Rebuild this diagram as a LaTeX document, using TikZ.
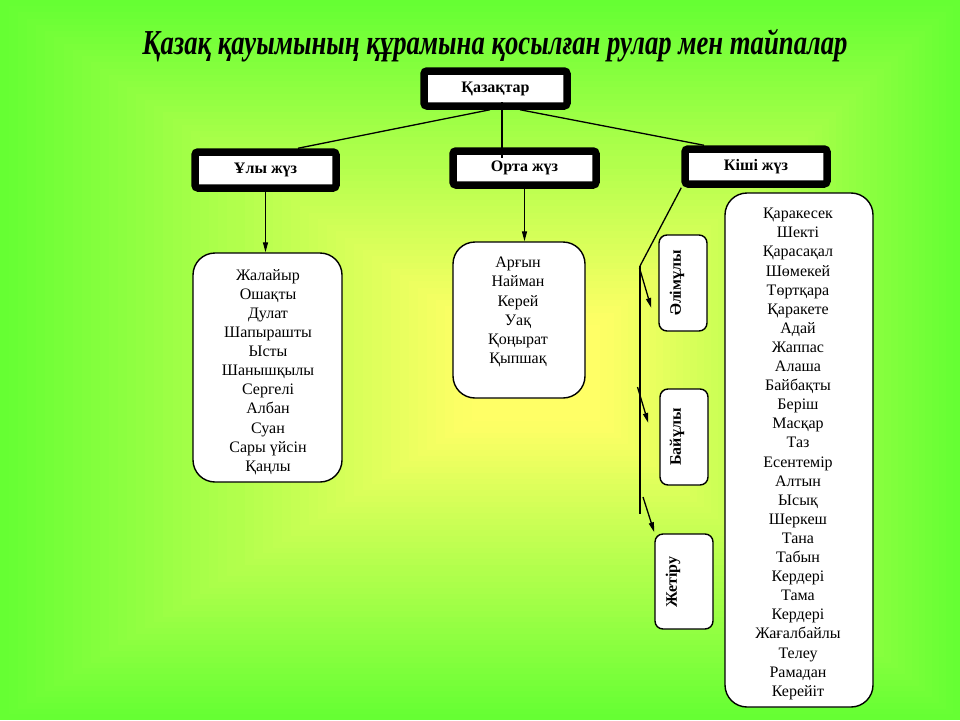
\documentclass[tikz,border=0pt]{standalone}
\usepackage{graphicx}
\usepackage{fontspec}
\setmainfont{Liberation Serif}
\usetikzlibrary{arrows.meta,calc}
\definecolor{bgyel}{RGB}{255,255,102}
\definecolor{bggrn}{RGB}{102,255,51}
\begin{document}
\begin{tikzpicture}[x=1pt,y=-1pt,
  zhbox/.style={draw=black, fill=white, line width=7.5pt, rounded corners=3pt,
    font=\fontsize{16}{19}\selectfont\bfseries, inner sep=0pt},
  listbox/.style={draw=black, fill=white, line width=1.4pt, rounded corners=22pt, inner sep=0pt},
  vbox/.style={draw=black, fill=white, line width=1.4pt, rounded corners=8pt, inner sep=0pt},
  listtext/.style={align=center, font=\fontsize{16}{19.1}\selectfont, inner sep=0pt},
  vlabel/.style={rotate=90, font=\fontsize{16}{19}\selectfont\bfseries, inner sep=0pt},
  conn/.style={draw=black, line width=1.3pt},
  arr/.style={draw=black, line width=1.3pt, -{Triangle[length=10pt,width=5pt]}}]

\useasboundingbox (0,0) rectangle (960,720);
% background: rectangular gradient
\fill[bggrn] (0,0) rectangle (960,720);
\foreach \i in {1,...,60}{
  \pgfmathsetmacro{\t}{1-\i/60}
  \pgfmathtruncatemacro{\p}{min(100,100*(1-\t)/0.85)}
  \fill[bgyel!\p!bggrn] ({545-\t*545},{375-\t*375}) rectangle ({545+\t*415},{375+\t*345});
}

% title
\node[font=\fontsize{35}{38}\selectfont\bfseries\itshape, inner sep=0pt] (title) at (495,46)
  {\resizebox{705pt}{\height}{Қазақ қауымының құрамына қосылған рулар мен тайпалар}};

% main boxes
\node[zhbox, minimum width=143pt, minimum height=35pt] (kaz) at (495.5,88.5) {Қазақтар};
\node[zhbox, minimum width=141pt, minimum height=36pt] (uly) at (265.5,170) {Ұлы жүз};
\node[zhbox, minimum width=143pt, minimum height=34pt] (orta) at (524.5,168) {Орта жүз};
\node[zhbox, minimum width=142pt, minimum height=35pt] (kishi) at (756,166.5) {Кіші жүз};

% list boxes
\node[listbox, minimum width=149pt, minimum height=229pt] (ulylist) at (267.5,367.5) {};
\node[listtext] (ulytext) at (268,372) {Жалайыр\\Ошақты\\Дулат\\Шапырашты\\Ысты\\Шанышқылы\\Сергелі\\Албан\\Суан\\Сары үйсін\\Қаңлы};

\node[listbox, minimum width=132pt, minimum height=156pt] (ortalist) at (519,320) {};
\node[listtext] (ortatext) at (518,312) {Арғын\\Найман\\Керей\\Уақ\\Қоңырат\\Қыпшақ};

\node[listbox, minimum width=148pt, minimum height=514pt] (kishilist) at (799,450) {};
\node[listtext] (kishitext) at (798,454) {Қаракесек\\Шекті\\Қарасақал\\Шөмекей\\Төртқара\\Қаракете\\Адай\\Жаппас\\Алаша\\Байбақты\\Беріш\\Масқар\\Таз\\Есентемір\\Алтын\\Ысық\\Шеркеш\\Тана\\Табын\\Кердері\\Тама\\Кердері\\Жағалбайлы\\Телеу\\Рамадан\\Керейіт};

% vertical boxes
\node[vbox, minimum width=48pt, minimum height=96pt] (alim) at (683,283) {};
\node[vlabel] (alimtext) at (677,283) {Әлімұлы};
\node[vbox, minimum width=48pt, minimum height=96pt] (bai) at (684,437) {};
\node[vlabel] (baitext) at (677,437) {Байұлы};
\node[vbox, minimum width=58pt, minimum height=95pt] (zhet) at (684,581.5) {};
\node[vlabel] (zhettext) at (673,582) {Жетіру};

% connectors from Қазақтар
\draw[conn] ($(kaz.south)+(-5.5,0)$) -- ($(uly.north)+(32.5,0)$);
\draw[conn] ($(kaz.south)+(24.5,0)$) -- ($(kishi.north)+(-52,0)$);
\draw[conn] ($(kaz.center)+(6.5,13.5)$) -- ($(orta.center)+(-22.5,-10)$);

% arrows to lists
\draw[arr] (uly.south) -- (uly.south |- ulylist.north);
\draw[arr] (orta.south) -- (orta.south |- ortalist.north);

% Кіші жүз branch
\coordinate (kbtop) at (640,266);
\coordinate (kbbot) at (640,514);
\draw[conn] (kishi.south west) -- (kbtop);
\draw[conn] (kbtop) -- (kbbot);
\coordinate (a1) at (639.5,268);
\coordinate (a2) at (637.5,387);
\coordinate (a3) at (643,497);
\draw[arr] (a1) -- ($(alim.west)+(-7,25)$);
\draw[arr] (a2) -- ($(bai.west)+(-11,-14)$);
\draw[arr] (a3) -- ($(zhet.north west)+(0,-1)$);
\end{tikzpicture}
\end{document}
